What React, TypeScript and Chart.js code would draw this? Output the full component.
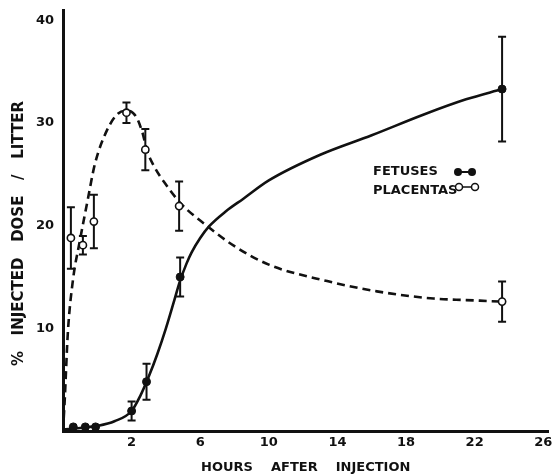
import React, { useEffect, useRef } from "react";
import { Chart, registerables, LinearScale } from "chart.js";

Chart.register(...registerables);

// ---- data (hours after injection, % injected dose / litter) ----
const X_TICKS = [2, 6, 10, 14, 18, 22, 26];
const Y_TICKS = [10, 20, 30, 40];

const FETUS_HOURS = [0.3, 0.65, 0.95, 2.0, 2.87, 4.83, 23.6];
const FETUS_VALUES = [0.4, 0.4, 0.4, 1.95, 4.8, 15.0, 33.3];
const FETUS_ERRORS = [0, 0, 0, 0.93, 1.75, 1.9, 5.1];

const PLACENTA_HOURS = [0.23, 0.58, 0.9, 1.85, 2.8, 4.77, 23.6];
const PLACENTA_VALUES = [18.8, 18.1, 20.4, 31.0, 27.4, 21.9, 12.6];
const PLACENTA_ERRORS = [3.0, 0.9, 2.6, 1.0, 2.0, 2.4, 1.95];

const FETUS_CURVE_HOURS = [0, 0.5, 1.0, 1.5, 2.0, 2.5, 3.0, 3.5, 4.0, 4.5, 4.8, 5.2, 5.5, 6.0, 6.5, 7.5, 8.5, 10, 13, 16, 19, 21.5, 23.6];
const FETUS_CURVE_VALUES = [0.15, 0.3, 0.5, 0.95, 1.95, 3.4, 5.3, 7.5, 10.0, 12.8, 14.5, 16.3, 17.4, 18.8, 19.9, 21.4, 22.6, 24.4, 26.9, 28.8, 30.8, 32.3, 33.3];

const PLACENTA_CURVE_HOURS = [0, 0.05, 0.14, 0.29, 0.49, 0.72, 0.93, 1.27, 1.6, 1.9, 2.3, 2.64, 2.9, 3.3, 4.0, 4.9, 6.3, 8, 10, 13.4, 16.3, 19.6, 21.5, 23.6];
const PLACENTA_CURVE_VALUES = [0, 3, 9.5, 14.7, 18.5, 22.5, 26.0, 29.2, 30.9, 31.2, 30.5, 29.0, 27.3, 25.8, 24.0, 22.1, 20.1, 18.0, 16.2, 14.6, 13.6, 12.9, 12.75, 12.6];

const X_TITLE = "HOURS    AFTER    INJECTION";
const Y_TITLE = "%   INJECTED   DOSE   /   LITTER     ";
const LEGEND_FETUSES = "FETUSES";
const LEGEND_PLACENTAS = "PLACENTAS";

// ---- custom scale: first 2 hours drawn at double width ----
const BREAK_HOUR = 2;
const STRETCH = 2;

class BrokenHoursScale extends LinearScale {
  static id = "brokenHours";
  static defaults = {};
  toU(v: number) {
    return v <= BREAK_HOUR ? v * STRETCH : v + BREAK_HOUR * (STRETCH - 1);
  }
  fromU(u: number) {
    return u <= BREAK_HOUR * STRETCH ? u / STRETCH : u - BREAK_HOUR * (STRETCH - 1);
  }
  getPixelForValue(value: number) {
    const a = this.toU(this.min);
    const b = this.toU(this.max);
    return this.getPixelForDecimal((this.toU(value) - a) / (b - a));
  }
  getValueForPixel(pixel: number) {
    const a = this.toU(this.min);
    const b = this.toU(this.max);
    return this.fromU(a + this.getDecimalForPixel(pixel) * (b - a));
  }
}
Chart.register(BrokenHoursScale as any);

const toXY = (xs: number[], ys: number[]) => xs.map((x, i) => ({ x, y: ys[i] }));

const FONT = "'DejaVu Sans', sans-serif";
const INK = "#111";

const errorBarsPlugin = {
  id: "errorBars",
  beforeDatasetsDraw(chart: any) {
    const { ctx } = chart;
    const x = chart.scales.x;
    const y = chart.scales.y;
    const sets = [
      [FETUS_HOURS, FETUS_VALUES, FETUS_ERRORS],
      [PLACENTA_HOURS, PLACENTA_VALUES, PLACENTA_ERRORS],
    ];
    const cap = 4;
    ctx.save();
    ctx.strokeStyle = INK;
    ctx.lineWidth = 2;
    sets.forEach(([hs, vs, es]) => {
      hs.forEach((h, i) => {
        const e = es[i];
        if (!e) return;
        const px = x.getPixelForValue(h);
        const top = y.getPixelForValue(vs[i] + e);
        const bot = y.getPixelForValue(vs[i] - e);
        ctx.beginPath();
        ctx.moveTo(px, top);
        ctx.lineTo(px, bot);
        ctx.moveTo(px - cap, top);
        ctx.lineTo(px + cap, top);
        ctx.moveTo(px - cap, bot);
        ctx.lineTo(px + cap, bot);
        ctx.stroke();
      });
    });
    ctx.restore();
  },
};

const legendPlugin = {
  id: "customLegend",
  afterDraw(chart: any) {
    const { ctx, chartArea } = chart;
    const lx = chartArea.left + 310;
    const ly = chartArea.top + 162;
    ctx.save();
    ctx.fillStyle = INK;
    ctx.strokeStyle = INK;
    ctx.font = `bold 13px ${FONT}`;
    ctx.textAlign = "left";
    ctx.textBaseline = "middle";
    ctx.fillText(LEGEND_FETUSES, lx, ly);
    ctx.fillText(LEGEND_PLACENTAS, lx, ly + 19);
    // filled symbol
    ctx.lineWidth = 2;
    ctx.beginPath();
    ctx.moveTo(lx + 85, ly);
    ctx.lineTo(lx + 99, ly);
    ctx.stroke();
    [85, 99].forEach((dx) => {
      ctx.beginPath();
      ctx.arc(lx + dx, ly, 4, 0, Math.PI * 2);
      ctx.fill();
    });
    // open symbol
    const oy = ly + 15;
    ctx.lineWidth = 1.5;
    ctx.beginPath();
    ctx.moveTo(lx + 86, oy);
    ctx.lineTo(lx + 102, oy);
    ctx.stroke();
    [86, 102].forEach((dx) => {
      ctx.beginPath();
      ctx.arc(lx + dx, oy, 3.5, 0, Math.PI * 2);
      ctx.fillStyle = "#fff";
      ctx.fill();
      ctx.stroke();
    });
    ctx.restore();
  },
};

export default function App() {
  const ref = useRef<HTMLCanvasElement | null>(null);

  useEffect(() => {
    if (!ref.current) return;
    const chart = new Chart(ref.current, {
      type: "scatter",
      data: {
        datasets: [
          {
            label: "Fetuses",
            data: toXY(FETUS_HOURS, FETUS_VALUES),
            showLine: false,
            pointRadius: 4,
            pointBackgroundColor: INK,
            pointBorderColor: INK,
            pointBorderWidth: 1,
          },
          {
            label: "Placentas",
            data: toXY(PLACENTA_HOURS, PLACENTA_VALUES),
            showLine: false,
            pointRadius: 3.6,
            pointBackgroundColor: "#fff",
            pointBorderColor: INK,
            pointBorderWidth: 1.6,
          },
          {
            label: "Fetuses curve",
            data: toXY(FETUS_CURVE_HOURS, FETUS_CURVE_VALUES),
            showLine: true,
            pointRadius: 0,
            borderColor: INK,
            borderWidth: 2.6,
            cubicInterpolationMode: "monotone",
          },
          {
            label: "Placentas curve",
            data: toXY(PLACENTA_CURVE_HOURS, PLACENTA_CURVE_VALUES),
            showLine: true,
            pointRadius: 0,
            borderColor: INK,
            borderWidth: 2.6,
            borderDash: [8, 5],
            cubicInterpolationMode: "monotone",
          },
        ],
      } as any,
      options: {
        animation: false,
        responsive: true,
        maintainAspectRatio: false,
        layout: { padding: { top: 10, right: 1, left: 0, bottom: 0 } },
        plugins: {
          legend: { display: false },
          tooltip: { enabled: false },
        },
        scales: {
          x: {
            type: "brokenHours" as any,
            min: 0,
            max: 26.3,
            grid: { display: false, drawTicks: false },
            border: { display: true, width: 3, color: INK },
            afterBuildTicks: (scale: any) => {
              scale.ticks = X_TICKS.map((value) => ({ value }));
            },
            afterFit: (scale: any) => {
              scale.height = 44;
              scale.paddingLeft = 0;
              scale.paddingRight = 0;
            },
            ticks: {
              autoSkip: false,
              maxRotation: 0,
              padding: 4,
              color: INK,
              font: { family: FONT, size: 13, weight: "bold" },
            },
            title: {
              display: true,
              text: X_TITLE,
              color: INK,
              padding: { top: 0, bottom: 0 },
              font: { family: FONT, size: 13, weight: "bold" },
            },
          } as any,
          y: {
            type: "linear",
            min: 0,
            max: 41,
            grid: { display: false, drawTicks: false },
            border: { display: true, width: 3, color: INK },
            afterBuildTicks: (scale: any) => {
              scale.ticks = Y_TICKS.map((value) => ({ value }));
            },
            afterFit: (scale: any) => {
              scale.width = 63;
              scale.paddingTop = 0;
              scale.paddingBottom = 0;
            },
            ticks: {
              padding: 9,
              color: INK,
              font: { family: FONT, size: 13, weight: "bold" },
            },
            title: {
              display: true,
              text: Y_TITLE,
              color: INK,
              padding: { top: 10, bottom: 0 },
              font: { family: FONT, size: 15, weight: "bold" },
            },
          },
        },
      },
      plugins: [errorBarsPlugin, legendPlugin],
    });
    return () => chart.destroy();
  }, []);

  return (
    <div style={{ position: "absolute", left: 0, top: 0, width: 554, height: 475, background: "#fff" }}>
      <canvas ref={ref} />
    </div>
  );
}
